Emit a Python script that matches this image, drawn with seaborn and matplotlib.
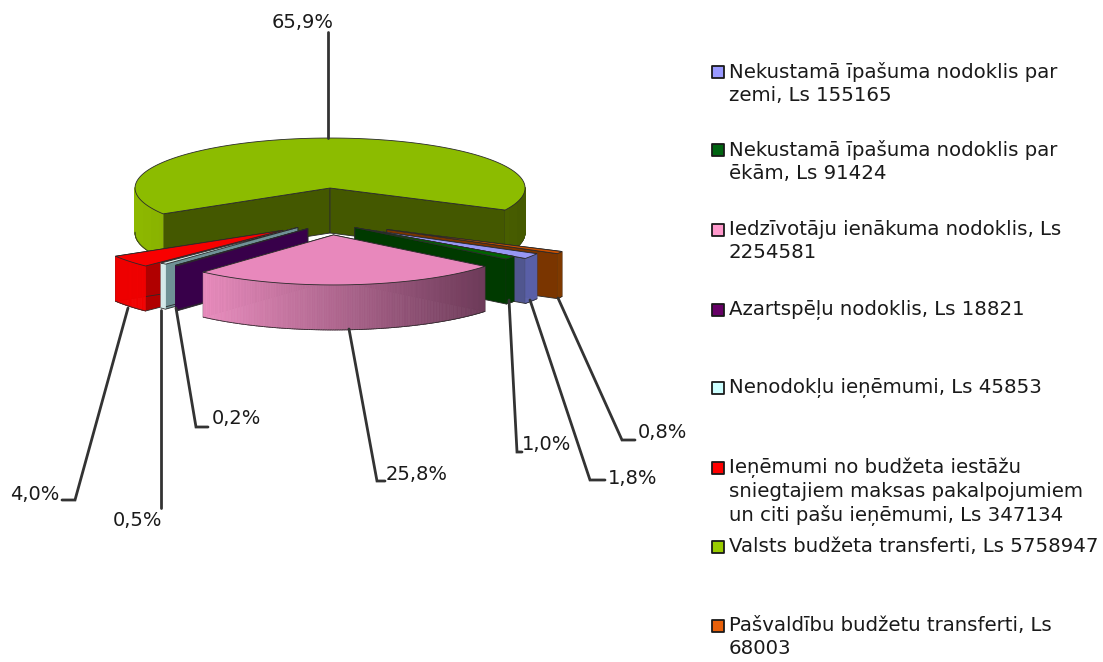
import numpy as np
import pandas as pd
import seaborn as sns
import matplotlib.pyplot as plt

# legend order, amounts in Ls
names = ['Nekustamā īpašuma nodoklis par\nzemi, Ls 155165',
         'Nekustamā īpašuma nodoklis par\nēkām, Ls 91424',
         'Iedzīvotāju ienākuma nodoklis, Ls\n2254581',
         'Azartspēļu nodoklis, Ls 18821',
         'Nenodokļu ieņēmumi, Ls 45853',
         'Ieņēmumi no budžeta iestāžu\nsniegtajiem maksas pakalpojumiem\nun citi pašu ieņēmumi, Ls 347134',
         'Valsts budžeta transferti, Ls 5758947',
         'Pašvaldību budžetu transferti, Ls\n68003']
amounts = [155165, 91424, 2254581, 18821, 45853, 347134, 5758947, 68003]

# colours per slice
legend_colors = ['#9999FF', '#006411', '#FF99CC', '#660066', '#CCFFFF', '#FF0000', '#99CC00', '#E8600A']
top_colors = ['#9797F5', '#006400', '#E888BC', '#4A0058', '#D5EBEB', '#F80000', '#8CBC00', '#C85000']
cut_colors = ['#50568F', '#003A00', '#7A3F60', '#38004A', '#6F9296', '#B00000', '#445800', '#7A3500']
rim_left = ['#5A60A8', '#003A00', '#E88CBD', '#38004A', '#D5EBEB', '#F00000', '#8DB800', '#7F3A00']
rim_right = ['#5A60A8', '#003A00', '#6C3A58', '#38004A', '#D5EBEB', '#F00000', '#445800', '#7F3A00']

# how far each slice is pulled out, sideways and up/down
explode_x = [0.21, 0.15, 0.13, 0.18, 0.25, 0.32, 0.17, 0.32]
explode_y = [0.68, 0.53, 0.47, 0.46, 0.44, 0.61, 0.47, 0.78]
draw_order = [6, 7, 0, 1, 5, 4, 3, 2]

# label placement in pixels: text centre, then the leader line
label_pos = [(633, 478), (547, 445), (417, 475), (236, 418), (138, 520), (35, 495), (303, 22), (662, 432)]
leader_x = [[530, 590, 605], [509, 517, 522], [349, 377, 385], [176, 196, 208],
            [161, 161, 161], [128, 75, 62], [328, 328, 328], [558, 622, 635]]
leader_y = [[300, 480, 480], [300, 452, 452], [329, 481, 481], [308, 427, 427],
            [310, 508, 508], [308, 500, 500], [138, 32, 32], [298, 440, 440]]

legend_x = [729] * 8
legend_y = [72, 150, 230, 310, 388, 468, 547, 626]

sns.set_theme(style='white')
plt.rcParams['font.family'] = ['DejaVu Sans']

fig = plt.figure(figsize=(11.03, 6.62), dpi=100)
ax = fig.add_axes([0, 0, 1, 1])

cx, cy = 331.5, 211.5
rx, ry = 195, 50
depth = 45
edge = '#2a2a2a'

sweep = np.array(amounts) / sum(amounts) * 360
start_angle = 118.9
starts = start_angle + np.concatenate([[0], np.cumsum(sweep)[:-1]])


def rim_point(apex, deg):
    t = np.radians(deg)
    return apex[0] + rx * np.sin(t), apex[1] - ry * np.cos(t)


for i in draw_order:
    a0, a1 = starts[i], starts[i] + sweep[i]
    mid = np.radians((a0 + a1) / 2)
    apex = (cx + explode_x[i] * rx * np.sin(mid), cy - explode_y[i] * ry * np.cos(mid))
    angles = np.linspace(a0, a1, max(int(sweep[i]) * 2, 4))
    px, py = rim_point(apex, angles)

    # the two cut faces
    for a in (a0, a1):
        ex, ey = rim_point(apex, a)
        ax.fill([apex[0], ex, ex, apex[0]], [apex[1], ey, ey + depth, apex[1] + depth],
                color=cut_colors[i], ec=edge, lw=0.6, zorder=1)

    # outer rim, front part only, shaded from left to right
    shades = sns.blend_palette([rim_left[i], rim_right[i]], n_colors=50)
    front = np.cos(np.radians(angles)) < 0.02
    lo, hi = px[front].min(), px[front].max()
    for j in range(len(angles) - 1):
        if not (front[j] and front[j + 1]):
            continue
        k = int(np.clip((px[j] - lo) / max(hi - lo, 1), 0, 1) * 49)
        ax.fill([px[j], px[j + 1], px[j + 1], px[j]],
                [py[j], py[j + 1], py[j + 1] + depth, py[j] + depth],
                color=shades[k], lw=0.5, zorder=1)
        ax.plot(px[j:j + 2], py[j:j + 2] + depth, color=edge, lw=0.6, zorder=1)

    # top
    ax.fill(np.r_[apex[0], px], np.r_[apex[1], py], color=top_colors[i], ec=edge, lw=0.6, zorder=1)

# leaders and percentages
for i in range(len(amounts)):
    ax.plot(leader_x[i], leader_y[i], color='#333333', lw=2, zorder=2, solid_joinstyle='miter')
    share = f'{amounts[i] / sum(amounts) * 100:.1f}%'.replace('.', ',')
    ax.text(label_pos[i][0], label_pos[i][1], share, fontsize=14, color='#1a1a1a',
            ha='center', va='center', zorder=3)

# legend
legend_df = pd.DataFrame({'name': names, 'x': [718] * 8, 'y': legend_y})
sns.scatterplot(data=legend_df, x='x', y='y', hue='name', palette=legend_colors, marker='s', s=72,
                edgecolor='#1a1a1a', linewidth=1.3, legend=False, ax=ax, zorder=3)
for i in range(len(names)):
    ax.text(legend_x[i], legend_y[i] - 10, names[i], fontsize=14.2, color='#1a1a1a',
            ha='left', va='top', linespacing=1.25, zorder=3)

ax.set_xlim(0, 1103)
ax.set_ylim(662, 0)
ax.axis('off')

fig.savefig('out.png', dpi=100)
